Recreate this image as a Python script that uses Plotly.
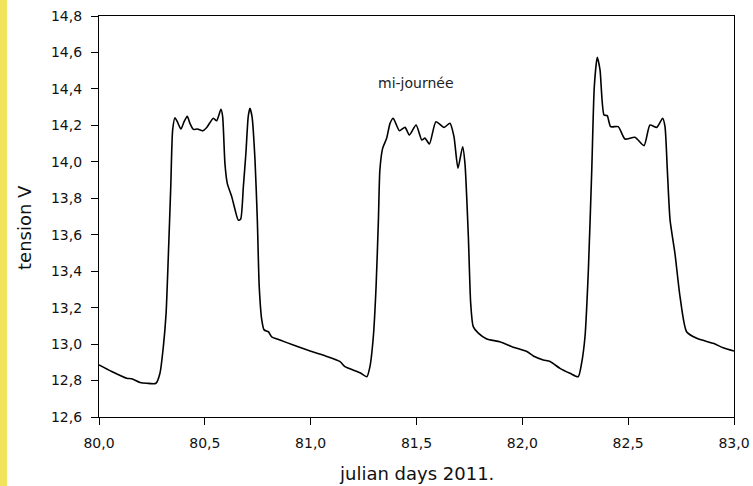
import plotly.graph_objects as go

# julian day and battery voltage
days = [80.0, 80.06, 80.131, 80.154, 80.194, 80.225, 80.269, 80.288, 80.304, 80.317,
        80.328, 80.339, 80.348, 80.359, 80.37, 80.387, 80.402, 80.417, 80.43, 80.446,
        80.465, 80.49, 80.51, 80.54, 80.556, 80.576, 80.584, 80.595, 80.606, 80.627,
        80.643, 80.658, 80.669, 80.682, 80.694, 80.705, 80.713, 80.723, 80.737, 80.748,
        80.757, 80.769, 80.78, 80.8, 80.816, 80.855, 80.918, 81.005, 81.07, 81.139,
        81.162, 81.233, 81.265, 81.28, 81.296, 81.309, 81.32, 81.327, 81.34, 81.359,
        81.375, 81.39, 81.419, 81.446, 81.466, 81.498, 81.525, 81.54, 81.561, 81.592,
        81.63, 81.658, 81.677, 81.696, 81.718, 81.729, 81.745, 81.756, 81.768, 81.792,
        81.832, 81.894, 81.957, 82.021, 82.052, 82.099, 82.131, 82.178, 82.225, 82.264,
        82.28, 82.296, 82.312, 82.328, 82.34, 82.354, 82.367, 82.386, 82.401, 82.417,
        82.453, 82.485, 82.532, 82.575, 82.603, 82.635, 82.663, 82.674, 82.685, 82.698,
        82.721, 82.745, 82.776, 82.824, 82.902, 82.949, 83.0]
volts = [12.886, 12.85, 12.813, 12.81, 12.789, 12.785, 12.785, 12.84, 12.986, 13.17,
         13.498, 13.864, 14.175, 14.242, 14.22, 14.18, 14.22, 14.25, 14.21, 14.178,
         14.18, 14.17, 14.19, 14.239, 14.225, 14.288, 14.25, 13.99, 13.882, 13.809,
         13.736, 13.68, 13.685, 13.864, 14.047, 14.248, 14.294, 14.248, 14.01, 13.68,
         13.315, 13.133, 13.078, 13.068, 13.04, 13.022, 12.995, 12.959, 12.935, 12.904,
         12.876, 12.843, 12.821, 12.876, 13.04, 13.315, 13.68, 13.955, 14.074, 14.129,
         14.211, 14.239, 14.171, 14.189, 14.147, 14.202, 14.12, 14.13, 14.098, 14.22,
         14.189, 14.211, 14.138, 13.965, 14.083, 13.99, 13.589, 13.224, 13.096, 13.06,
         13.028, 13.013, 12.983, 12.959, 12.935, 12.913, 12.904, 12.867, 12.84, 12.821,
         12.895, 13.04, 13.407, 13.955, 14.412, 14.573, 14.504, 14.257, 14.253, 14.193,
         14.193, 14.125, 14.135, 14.089, 14.202, 14.189, 14.239, 14.193, 13.955, 13.68,
         13.498, 13.26, 13.068, 13.032, 13.004, 12.98, 12.962]

x_ticks = [80.0, 80.5, 81.0, 81.5, 82.0, 82.5, 83.0]
y_ticks = [12.6, 12.8, 13.0, 13.2, 13.4, 13.6, 13.8, 14.0, 14.2, 14.4, 14.6, 14.8]

# plot area in pixels: left 99, right 734, top 16, bottom 417
W_PLOT, H_PLOT = 635, 401

fig = go.Figure()
fig.add_trace(go.Scatter(x=days, y=volts, mode="lines",
                         line=dict(color="black", width=1.6, shape="spline", smoothing=0.6),
                         showlegend=False))

fig.add_annotation(x=81.496, y=14.43, text="mi-journée", showarrow=False,
                   font=dict(size=14, color="#222"))

# axis titles placed by hand
fig.add_annotation(xref="paper", yref="paper", x=0.5, y=-(474 - 417) / H_PLOT,
                   text="julian days 2011.", showarrow=False, yanchor="middle",
                   font=dict(size=18))
fig.add_annotation(xref="paper", yref="paper", x=-(99 - 24) / W_PLOT, y=1 - (228 - 16) / H_PLOT,
                   text="tension V", showarrow=False, textangle=-90,
                   xanchor="center", yanchor="middle", font=dict(size=18))

# yellow strip on the left edge of the page
fig.add_shape(type="rect", xref="paper", yref="paper",
              x0=-99 / W_PLOT, x1=-92 / W_PLOT, y0=-70 / H_PLOT, y1=1 + 17 / H_PLOT,
              fillcolor="#F2E45A", line_width=0, layer="below")

axis_style = dict(showgrid=False, zeroline=False, showline=True, linecolor="black",
                  linewidth=1.2, mirror=True, ticks="outside", ticklen=7,
                  tickcolor="black", tickformat=".1f", automargin=False,
                  ticklabelstandoff=6)

fig.update_xaxes(range=[80, 83], tickvals=x_ticks, **axis_style)
fig.update_yaxes(range=[12.6, 14.8], tickvals=y_ticks, **axis_style)

fig.update_layout(
    width=753, height=486,
    margin=dict(l=99, r=19, t=16, b=69),
    plot_bgcolor="white", paper_bgcolor="white",
    separators=",.",
    font=dict(family="DejaVu Sans, Arial, sans-serif", size=14, color="#111"),
)

# drop the browser's default page margin so the figure sits at the window corner
fig.write_html("out.html", config={"displayModeBar": False},
               post_script="document.body.style.margin = '0';")
